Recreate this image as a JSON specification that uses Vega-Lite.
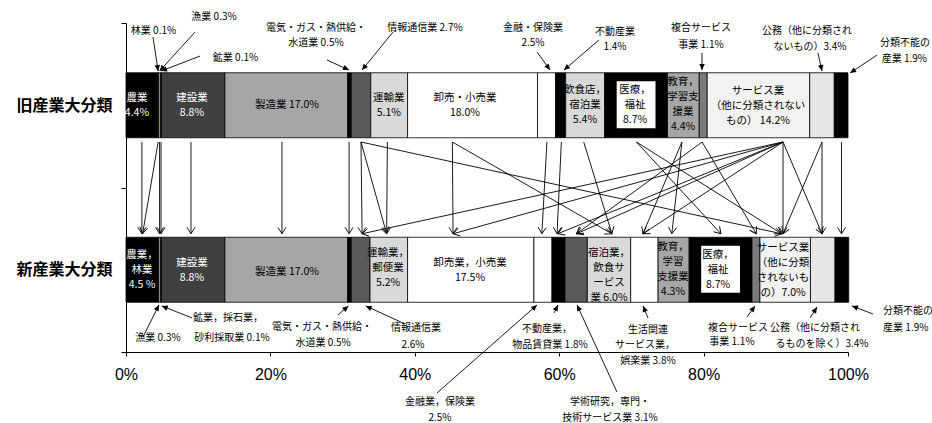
{
  "$schema": "https://vega.github.io/schema/vega-lite/v6.json",
  "width": 722,
  "height": 329,
  "autosize": {"type": "none"},
  "padding": {"left": 126, "top": 23, "right": 84, "bottom": 71},
  "background": "white",
  "config": {"view": {"stroke": null}, "font": "Noto Sans CJK JP"},
  "datasets": {
    "segs": [
      {"row": 1, "i": 1, "name": "農業", "v": 4.4},
      {"row": 1, "i": 2, "name": "林業", "v": 0.1},
      {"row": 1, "i": 3, "name": "漁業", "v": 0.3},
      {"row": 1, "i": 4, "name": "鉱業", "v": 0.1},
      {"row": 1, "i": 5, "name": "建設業", "v": 8.8},
      {"row": 1, "i": 6, "name": "製造業", "v": 17.0},
      {"row": 1, "i": 7, "name": "電気・ガス・熱供給・水道業", "v": 0.5},
      {"row": 1, "i": 8, "name": "情報通信業", "v": 2.7},
      {"row": 1, "i": 9, "name": "運輸業", "v": 5.1},
      {"row": 1, "i": 10, "name": "卸売・小売業", "v": 18.0},
      {"row": 1, "i": 11, "name": "金融・保険業", "v": 2.5},
      {"row": 1, "i": 12, "name": "不動産業", "v": 1.4},
      {"row": 1, "i": 13, "name": "飲食店，宿泊業", "v": 5.4},
      {"row": 1, "i": 14, "name": "医療，福祉", "v": 8.7},
      {"row": 1, "i": 15, "name": "教育，学習支援業", "v": 4.4},
      {"row": 1, "i": 16, "name": "複合サービス事業", "v": 1.1},
      {"row": 1, "i": 17, "name": "サービス業（他に分類されないもの）", "v": 14.2},
      {"row": 1, "i": 18, "name": "公務（他に分類されないもの）", "v": 3.4},
      {"row": 1, "i": 19, "name": "分類不能の産業", "v": 1.9},
      {"row": 2, "i": 1, "name": "農業，林業", "v": 4.5},
      {"row": 2, "i": 2, "name": "漁業", "v": 0.3},
      {"row": 2, "i": 3, "name": "鉱業，採石業，砂利採取業", "v": 0.1},
      {"row": 2, "i": 4, "name": "建設業", "v": 8.8},
      {"row": 2, "i": 5, "name": "製造業", "v": 17.0},
      {"row": 2, "i": 6, "name": "電気・ガス・熱供給・水道業", "v": 0.5},
      {"row": 2, "i": 7, "name": "情報通信業", "v": 2.6},
      {"row": 2, "i": 8, "name": "運輸業，郵便業", "v": 5.2},
      {"row": 2, "i": 9, "name": "卸売業，小売業", "v": 17.5},
      {"row": 2, "i": 10, "name": "金融業，保険業", "v": 2.5},
      {"row": 2, "i": 11, "name": "不動産業，物品賃貸業", "v": 1.8},
      {"row": 2, "i": 12, "name": "学術研究，専門・技術サービス業", "v": 3.1},
      {"row": 2, "i": 13, "name": "宿泊業，飲食サービス業", "v": 6.0},
      {"row": 2, "i": 14, "name": "生活関連サービス業，娯楽業", "v": 3.8},
      {"row": 2, "i": 15, "name": "教育，学習支援業", "v": 4.3},
      {"row": 2, "i": 16, "name": "医療，福祉", "v": 8.7},
      {"row": 2, "i": 17, "name": "複合サービス事業", "v": 1.1},
      {"row": 2, "i": 18, "name": "サービス業（他に分類されないもの）", "v": 7.0},
      {"row": 2, "i": 19, "name": "公務（他に分類されるものを除く）", "v": 3.4},
      {"row": 2, "i": 20, "name": "分類不能の産業", "v": 1.9}
    ],
    "inW": [
      {"t": "農業\n4.4%", "x": 1.52, "y": 0.956},
      {"t": "建設業\n8.8%", "x": 9.14, "y": 0.956},
      {"t": "農業，\n林業\n4.5 %", "x": 2.22, "y": 1.91},
      {"t": "建設業\n8.8%", "x": 9.14, "y": 1.959}
    ],
    "inB": [
      {"t": "製造業  17.0%", "x": 22.3, "y": 0.998},
      {"t": "運輸業\n5.1%", "x": 36.4, "y": 0.956},
      {"t": "卸売・小売業\n18.0%", "x": 46.95, "y": 0.956},
      {"t": "飲食店，\n宿泊業\n5.4%", "x": 63.57, "y": 0.907},
      {"t": "医療，\n福祉\n8.7%", "x": 70.5, "y": 0.907},
      {"t": "教育，\n学習支\n援業\n4.4%", "x": 77.15, "y": 0.859},
      {"t": "サービス業\n（他に分類されない\nもの） 14.2%", "x": 87.53, "y": 0.913},
      {"t": "製造業  17.0%", "x": 22.3, "y": 2.014},
      {"t": "運輸業，\n郵便業\n5.2%", "x": 36.29, "y": 1.898},
      {"t": "卸売業，小売業\n17.5%", "x": 47.65, "y": 1.959},
      {"t": "宿泊業，\n飲食サ\nービス\n業 6.0%", "x": 66.9, "y": 1.898},
      {"t": "教育，\n学習\n支援業\n4.3%", "x": 75.76, "y": 1.862},
      {"t": "医療，\n福祉\n8.7%", "x": 82.0, "y": 1.91},
      {"t": "サービス業\n（他に分類\nされないも\nの）7.0%", "x": 91.0, "y": 1.868}
    ],
    "callouts": [
      {"t": "林業 0.1%", "x": 3.81, "y": 0.549},
      {"t": "漁業 0.3%", "x": 12.19, "y": 0.464},
      {"t": "鉱業 0.1%", "x": 15.17, "y": 0.713},
      {"t": "電気・ガス・熱供給・", "x": 26.32, "y": 0.530},
      {"t": "水道業 0.5%", "x": 26.32, "y": 0.622},
      {"t": "情報通信業 2.7%", "x": 41.41, "y": 0.530},
      {"t": "金融・保険業", "x": 56.37, "y": 0.530},
      {"t": "2.5%", "x": 56.37, "y": 0.622},
      {"t": "不動産業", "x": 67.73, "y": 0.555},
      {"t": "1.4%", "x": 67.73, "y": 0.646},
      {"t": "複合サービス", "x": 79.64, "y": 0.530},
      {"t": "事業 1.1%", "x": 79.64, "y": 0.634},
      {"t": "公務（他に分類され", "x": 94.32, "y": 0.549},
      {"t": "ないもの）3.4%", "x": 94.74, "y": 0.646},
      {"t": "分類不能の", "x": 107.9, "y": 0.622},
      {"t": "産業 1.9%", "x": 107.8, "y": 0.719},
      {"t": "漁業 0.3%", "x": 4.43, "y": 2.415},
      {"t": "鉱業，採石業，", "x": 14.13, "y": 2.293},
      {"t": "砂利採取業 0.1%", "x": 14.68, "y": 2.415},
      {"t": "電気・ガス・熱供給・", "x": 27.15, "y": 2.348},
      {"t": "水道業 0.5%", "x": 27.3, "y": 2.445},
      {"t": "情報通信業", "x": 40.17, "y": 2.354},
      {"t": "2.6%", "x": 39.75, "y": 2.457},
      {"t": "不動産業，", "x": 58.31, "y": 2.360},
      {"t": "物品賃貸業 1.8%", "x": 58.73, "y": 2.457},
      {"t": "生活関連", "x": 72.3, "y": 2.366},
      {"t": "サービス業，", "x": 71.88, "y": 2.457},
      {"t": "娯楽業 3.8%", "x": 72.3, "y": 2.555},
      {"t": "複合サービス", "x": 84.76, "y": 2.354},
      {"t": "事業 1.1%", "x": 83.93, "y": 2.439},
      {"t": "公務（他に分類され", "x": 95.43, "y": 2.354},
      {"t": "るものを除く）3.4%", "x": 96.4, "y": 2.451},
      {"t": "分類不能の", "x": 108.3, "y": 2.251},
      {"t": "産業 1.9%", "x": 108.0, "y": 2.354},
      {"t": "金融業，保険業", "x": 43.49, "y": 2.804},
      {"t": "2.5%", "x": 43.49, "y": 2.901},
      {"t": "学術研究，専門・", "x": 67.04, "y": 2.804},
      {"t": "技術サービス業 3.1%", "x": 67.04, "y": 2.901}
    ],
    "leaders": [
      {"x1": 3.74, "y1": 0.585, "x2": 4.45, "y2": 0.792},
      {"x1": 9.56, "y1": 0.555, "x2": 4.65, "y2": 0.792},
      {"x1": 10.25, "y1": 0.701, "x2": 4.85, "y2": 0.792},
      {"x1": 27.84, "y1": 0.725, "x2": 30.89, "y2": 0.786},
      {"x1": 36.98, "y1": 0.555, "x2": 32.69, "y2": 0.786},
      {"x1": 56.93, "y1": 0.676, "x2": 58.73, "y2": 0.786},
      {"x1": 65.51, "y1": 0.603, "x2": 60.66, "y2": 0.786},
      {"x1": 79.78, "y1": 0.682, "x2": 79.78, "y2": 0.786},
      {"x1": 95.84, "y1": 0.682, "x2": 96.4, "y2": 0.792},
      {"x1": 104.02, "y1": 0.695, "x2": 100.28, "y2": 0.804},
      {"x1": 2.35, "y1": 2.409, "x2": 4.57, "y2": 2.214},
      {"x1": 9.14, "y1": 2.293, "x2": 4.95, "y2": 2.220},
      {"x1": 29.36, "y1": 2.275, "x2": 30.8, "y2": 2.220},
      {"x1": 38.37, "y1": 2.324, "x2": 33.2, "y2": 2.220},
      {"x1": 43.07, "y1": 2.749, "x2": 56.93, "y2": 2.214},
      {"x1": 59.28, "y1": 2.263, "x2": 59.83, "y2": 2.214},
      {"x1": 68.0, "y1": 2.743, "x2": 62.47, "y2": 2.214},
      {"x1": 72.3, "y1": 2.293, "x2": 71.61, "y2": 2.220},
      {"x1": 86.01, "y1": 2.287, "x2": 87.12, "y2": 2.220},
      {"x1": 94.74, "y1": 2.293, "x2": 95.71, "y2": 2.227},
      {"x1": 103.46, "y1": 2.269, "x2": 100.55, "y2": 2.220}
    ],
    "arrows": [
      {"from": 2.2, "to": 2.2},
      {"from": 4.45, "to": 2.3},
      {"from": 4.65, "to": 4.65},
      {"from": 4.85, "to": 4.85},
      {"from": 9.0, "to": 9.0},
      {"from": 21.6, "to": 21.6},
      {"from": 30.9, "to": 30.9},
      {"from": 32.55, "to": 32.7},
      {"from": 32.55, "to": 36.1},
      {"from": 32.55, "to": 90.8},
      {"from": 36.2, "to": 36.1},
      {"from": 45.2, "to": 45.3},
      {"from": 45.2, "to": 67.3},
      {"from": 91.0, "to": 32.7},
      {"from": 91.0, "to": 45.3},
      {"from": 58.3, "to": 57.6},
      {"from": 60.3, "to": 59.7},
      {"from": 63.4, "to": 67.3},
      {"from": 70.7, "to": 82.4},
      {"from": 70.7, "to": 90.8},
      {"from": 77.0, "to": 75.6},
      {"from": 77.0, "to": 71.6},
      {"from": 79.8, "to": 87.3},
      {"from": 79.8, "to": 62.4},
      {"from": 91.0, "to": 59.8},
      {"from": 91.0, "to": 62.4},
      {"from": 91.0, "to": 71.6},
      {"from": 91.0, "to": 91.0},
      {"from": 91.0, "to": 96.4},
      {"from": 96.4, "to": 96.4},
      {"from": 96.4, "to": 91.0},
      {"from": 99.1, "to": 99.1}
    ]
  },
  "layer": [
    {
      "data": {"name": "segs"},
      "transform": [
        {"stack": "v", "groupby": ["row"], "sort": [{"field": "i", "order": "ascending"}], "as": ["x0", "x1"]}
      ],
      "mark": {"type": "rect", "stroke": "#000", "strokeWidth": 0.8, "yOffset": -32.5, "y2Offset": 32.5},
      "encoding": {
        "x": {"field": "x0", "type": "quantitative", "title": null,
          "scale": {"domain": [0, 100], "nice": false, "zero": false},
          "axis": {"values": [0, 20, 40, 60, 80, 100], "labelExpr": "datum.value + '%'", "title": null, "grid": false,
            "tickSize": 4, "labelFontSize": 16, "labelFont": "Liberation Sans", "labelColor": "#000",
            "domainColor": "#000", "tickColor": "#000", "labelPadding": 10, "labelFlush": false}},
        "x2": {"field": "x1"},
        "y": {"field": "row", "type": "quantitative", "title": null,
          "scale": {"domain": [0.5, 2.5], "reverse": true, "nice": false, "zero": false},
          "axis": {"values": [0.5, 1, 1.5, 2, 2.5],
            "labelExpr": "datum.value == 1 ? '旧産業大分類' : datum.value == 2 ? '新産業大分類' : ''",
            "tickOpacity": {"condition": {"test": "datum.value == 1 || datum.value == 2", "value": 0}, "value": 1},
            "tickSize": 5, "labelFontSize": 16, "labelFontWeight": "bold", "labelFont": "Noto Sans CJK JP",
            "labelPadding": 9, "grid": false, "title": null, "domainColor": "#000", "tickColor": "#000",
            "labelColor": "#000", "labelFlush": false, "labelOverlap": false}},
        "y2": {"field": "row"},
        "fill": {"field": "name", "type": "nominal", "legend": null,
          "scale": {
            "domain": ["農業", "林業", "漁業", "鉱業", "建設業", "製造業", "電気・ガス・熱供給・水道業", "情報通信業", "運輸業", "卸売・小売業", "金融・保険業", "不動産業", "飲食店，宿泊業", "医療，福祉", "教育，学習支援業", "複合サービス事業", "サービス業（他に分類されないもの）", "公務（他に分類されないもの）", "分類不能の産業", "農業，林業", "鉱業，採石業，砂利採取業", "運輸業，郵便業", "卸売業，小売業", "金融業，保険業", "不動産業，物品賃貸業", "学術研究，専門・技術サービス業", "宿泊業，飲食サービス業", "生活関連サービス業，娯楽業", "公務（他に分類されるものを除く）"],
            "range": ["#000000", "#b04a4a", "#8c8c8c", "#8c8c8c", "#404040", "#a6a6a6", "#000000", "#5a5a5a", "#d9d9d9", "#ffffff", "#ffffff", "#000000", "#d9d9d9", "#000000", "#a6a6a6", "#7a7a7a", "#f2f2f2", "#e6e6e6", "#000000", "#000000", "#8c8c8c", "#d9d9d9", "#ffffff", "#ffffff", "#000000", "#595959", "#d9d9d9", "#ffffff", "#e6e6e6"]
          }}
      }
    },
    {
      "data": {"name": "segs"},
      "transform": [
        {"stack": "v", "groupby": ["row"], "sort": [{"field": "i", "order": "ascending"}], "as": ["x0", "x1"]},
        {"filter": "datum.name == '医療，福祉'"}
      ],
      "mark": {"type": "rect", "fill": "#ffffff", "xOffset": 12, "x2Offset": -12, "yOffset": -24, "y2Offset": 23},
      "encoding": {
        "x": {"field": "x0", "type": "quantitative", "title": null},
        "x2": {"field": "x1"},
        "y": {"field": "row", "type": "quantitative", "title": null},
        "y2": {"field": "row"}
      }
    },
    {
      "data": {"name": "inW"},
      "mark": {"type": "text", "lineBreak": "\n", "fontSize": 10.5, "lineHeight": 15, "fill": "#ffffff", "align": "center", "baseline": "middle", "font": "Noto Sans CJK JP"},
      "encoding": {
        "x": {"field": "x", "type": "quantitative", "title": null},
        "y": {"field": "y", "type": "quantitative", "title": null},
        "text": {"field": "t", "type": "nominal"}
      }
    },
    {
      "data": {"name": "inB"},
      "mark": {"type": "text", "lineBreak": "\n", "fontSize": 10.5, "lineHeight": 15, "fill": "#000000", "align": "center", "baseline": "middle", "font": "Noto Sans CJK JP"},
      "encoding": {
        "x": {"field": "x", "type": "quantitative", "title": null},
        "y": {"field": "y", "type": "quantitative", "title": null},
        "text": {"field": "t", "type": "nominal"}
      }
    },
    {
      "data": {"name": "callouts"},
      "mark": {"type": "text", "fontSize": 10, "fill": "#000000", "align": "center", "baseline": "middle", "font": "Noto Sans CJK JP"},
      "encoding": {
        "x": {"field": "x", "type": "quantitative", "title": null},
        "y": {"field": "y", "type": "quantitative", "title": null},
        "text": {"field": "t", "type": "nominal"}
      }
    },
    {
      "data": {"name": "arrows"},
      "mark": {"type": "rule", "stroke": "#000", "strokeWidth": 0.9, "yOffset": 36.75, "y2Offset": -36},
      "encoding": {
        "x": {"field": "from", "type": "quantitative", "title": null},
        "x2": {"field": "to"},
        "y": {"datum": 1, "type": "quantitative", "title": null},
        "y2": {"datum": 2}
      }
    },
    {
      "data": {"name": "arrows"},
      "mark": {"type": "point", "shape": "M-1,-1.6L0,0L1,-1.6", "filled": false, "stroke": "#000", "strokeWidth": 0.9, "size": 64, "opacity": 1, "yOffset": -36,
        "angle": {"expr": "atan2(-(scale('x', datum.to) - scale('x', datum.from)), 92) * 180 / PI"}},
      "encoding": {
        "x": {"field": "to", "type": "quantitative", "title": null},
        "y": {"datum": 2, "type": "quantitative", "title": null}
      }
    },
    {
      "data": {"name": "leaders"},
      "mark": {"type": "rule", "stroke": "#000", "strokeWidth": 0.9},
      "encoding": {
        "x": {"field": "x1", "type": "quantitative", "title": null},
        "x2": {"field": "x2"},
        "y": {"field": "y1", "type": "quantitative", "title": null},
        "y2": {"field": "y2"}
      }
    },
    {
      "data": {"name": "leaders"},
      "mark": {"type": "point", "shape": "M-1,-2.2L0,0L1,-2.2Z", "filled": true, "fill": "#000", "strokeWidth": 0, "size": 30, "opacity": 1,
        "angle": {"expr": "atan2(-(scale('x', datum.x2) - scale('x', datum.x1)), scale('y', datum.y2) - scale('y', datum.y1)) * 180 / PI"}},
      "encoding": {
        "x": {"field": "x2", "type": "quantitative", "title": null},
        "y": {"field": "y2", "type": "quantitative", "title": null}
      }
    }
  ]
}
